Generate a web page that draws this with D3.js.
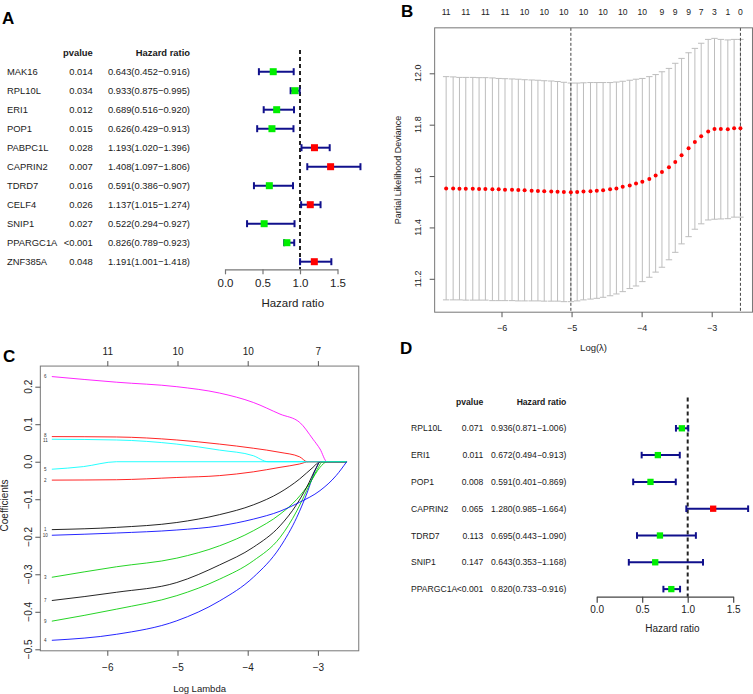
<!DOCTYPE html>
<html><head><meta charset="utf-8">
<script src="https://cdn.jsdelivr.net/npm/d3@7"></script>
<style>
body{margin:0;background:#fff;}
svg{display:block;font-family:"Liberation Sans",Arial,sans-serif;}
</style></head>
<body><svg id="chart" width="753" height="694"></svg>
<script>
// ---------- Panel A: univariate Cox forest plot ----------
const aGenes = ["MAK16","RPL10L","ERI1","POP1","PABPC1L","CAPRIN2","TDRD7","CELF4","SNIP1","PPARGC1A","ZNF385A"];
const aPvalues = ["0.014","0.034","0.012","0.015","0.028","0.007","0.016","0.026","0.027","<0.001","0.048"];
const aHR  = [0.643,0.933,0.689,0.626,1.193,1.408,0.591,1.137,0.522,0.826,1.191];
const aLow = [0.452,0.875,0.516,0.429,1.020,1.097,0.386,1.015,0.294,0.789,1.001];
const aHigh= [0.916,0.995,0.920,0.913,1.396,1.806,0.907,1.274,0.927,0.923,1.418];

// ---------- Panel B: cross-validation curve ----------
const bLogLambda = [-6.79,-6.69,-6.60,-6.51,-6.41,-6.32,-6.23,-6.13,-6.04,-5.95,-5.85,-5.76,-5.67,-5.57,-5.48,-5.39,-5.29,-5.20,-5.11,-5.01,-4.92,-4.83,-4.73,-4.64,-4.55,-4.45,-4.36,-4.27,-4.17,-4.08,-3.99,-3.89,-3.80,-3.71,-3.61,-3.52,-3.43,-3.33,-3.24,-3.15,-3.05,-2.96,-2.87,-2.77,-2.68,-2.59];
const bCvm = [11.552,11.552,11.551,11.551,11.551,11.550,11.550,11.549,11.549,11.547,11.547,11.546,11.545,11.543,11.542,11.541,11.540,11.539,11.538,11.537,11.538,11.540,11.541,11.543,11.545,11.549,11.552,11.558,11.563,11.571,11.578,11.589,11.602,11.616,11.634,11.655,11.681,11.708,11.733,11.755,11.773,11.783,11.783,11.782,11.786,11.786];
const bCvUp = [11.987,11.986,11.984,11.984,11.984,11.983,11.983,11.982,11.980,11.979,11.978,11.977,11.975,11.974,11.973,11.971,11.970,11.968,11.965,11.962,11.962,11.963,11.964,11.964,11.964,11.964,11.966,11.969,11.973,11.977,11.980,11.987,11.995,12.006,12.019,12.039,12.058,12.080,12.097,12.117,12.132,12.136,12.132,12.130,12.132,12.132];
const bCvLo = [11.118,11.118,11.118,11.117,11.117,11.117,11.117,11.115,11.115,11.115,11.115,11.114,11.114,11.114,11.114,11.113,11.113,11.113,11.111,11.111,11.114,11.118,11.121,11.124,11.128,11.134,11.141,11.150,11.162,11.172,11.189,11.206,11.226,11.245,11.274,11.303,11.336,11.364,11.393,11.414,11.429,11.432,11.433,11.434,11.440,11.440];
const bTopAt = [-6.79,-6.51,-6.23,-5.95,-5.67,-5.39,-5.11,-4.83,-4.55,-4.27,-3.99,-3.71,-3.52,-3.33,-3.15,-2.96,-2.77,-2.59];
const bTopLabels = ["11","11","11","11","10","10","10","10","10","10","10","9","9","9","7","3","1","0"];
const bXTicks = [-6,-5,-4,-3];
const bYTicks = [11.2,11.4,11.6,11.8,12.0];

// ---------- Panel C: LASSO coefficient paths ----------
const cVarLabels = ["1","2","3","4","5","6","7","8","9","10","11"];
const cColors = ["#000000","#FF0000","#00CD00","#0000FF","#00FFFF","#FF00FF","#000000","#FF0000","#00CD00","#0000FF","#00FFFF"];
const cPaths = [
  [[-6.79,-0.181],[-5.87,-0.175],[-5.01,-0.162],[-4.40,-0.141],[-3.92,-0.115],[-3.54,-0.082],[-3.26,-0.046],[-3.07,-0.015],[-2.97,0],[-2.59,0]],
  [[-6.79,-0.049],[-5.87,-0.048],[-5.01,-0.042],[-4.40,-0.037],[-3.92,-0.027],[-3.54,-0.015],[-3.26,-0.006],[-3.13,0],[-2.59,0]],
  [[-6.79,-0.308],[-5.87,-0.280],[-5.01,-0.257],[-4.40,-0.224],[-3.92,-0.184],[-3.54,-0.140],[-3.30,-0.100],[-3.11,-0.055],[-2.97,-0.015],[-2.87,0],[-2.59,0]],
  [[-6.79,-0.476],[-5.87,-0.460],[-5.01,-0.424],[-4.40,-0.371],[-3.92,-0.308],[-3.54,-0.228],[-3.30,-0.148],[-3.16,-0.086],[-3.02,-0.015],[-2.97,0],[-2.59,0]],
  [[-6.79,-0.020],[-6.34,-0.013],[-5.87,0],[-2.59,0]],
  [[-6.79,0.227],[-5.87,0.212],[-5.01,0.200],[-4.40,0.183],[-3.92,0.158],[-3.54,0.127],[-3.26,0.105],[-3.07,0.060],[-2.97,0.034],[-2.87,0],[-2.59,0]],
  [[-6.79,-0.370],[-5.87,-0.348],[-5.01,-0.322],[-4.40,-0.275],[-3.92,-0.228],[-3.54,-0.171],[-3.30,-0.113],[-3.16,-0.068],[-3.02,-0.015],[-2.97,0],[-2.59,0]],
  [[-6.79,0.067],[-5.87,0.066],[-5.01,0.058],[-4.40,0.047],[-3.92,0.036],[-3.54,0.025],[-3.26,0.013],[-3.15,0],[-2.59,0]],
  [[-6.79,-0.425],[-5.87,-0.393],[-5.01,-0.357],[-4.40,-0.313],[-3.92,-0.264],[-3.54,-0.202],[-3.30,-0.131],[-3.16,-0.077],[-3.02,-0.024],[-2.93,0],[-2.59,0]],
  [[-6.79,-0.196],[-5.87,-0.190],[-5.01,-0.182],[-4.40,-0.171],[-3.92,-0.153],[-3.54,-0.132],[-3.26,-0.108],[-2.97,-0.077],[-2.74,-0.037],[-2.59,0]],
  [[-6.79,0.060],[-5.87,0.058],[-5.01,0.047],[-4.40,0.031],[-3.92,0.016],[-3.71,0],[-2.59,0]]
];
const cXTicks = [-6,-5,-4,-3];
const cTopLabels = ["11","10","10","7"];
const cYTicks = [-0.5,-0.4,-0.3,-0.2,-0.1,0.0,0.1,0.2];

// ---------- Panel D: multivariate Cox forest plot ----------
const dGenes = ["RPL10L","ERI1","POP1","CAPRIN2","TDRD7","SNIP1","PPARGC1A"];
const dPvalues = ["0.071","0.011","0.008","0.065","0.113","0.147","<0.001"];
const dHR  = [0.936,0.672,0.591,1.280,0.695,0.643,0.820];
const dLow = [0.871,0.494,0.401,0.985,0.443,0.353,0.733];
const dHigh= [1.006,0.913,0.869,1.664,1.090,1.168,0.916];

const svg = d3.select("#chart");
svg.append("rect").attr("width",753).attr("height",694).attr("fill","#fff");

function panelLetter(t,x,y){
  svg.append("text").attr("x",x).attr("y",y).text(t)
    .attr("font-size",17).attr("font-weight","bold").attr("fill","#000");
}

// ---------- forest plot helper ----------
function forest(o){
  const g = svg.append("g");
  const n = o.genes.length;
  const x = d3.scaleLinear().domain([0,1]).range([o.x0,o.x1]);
  const y = d3.scalePoint().domain(d3.range(n)).range([o.yTop,o.yBot]);
  const hdrY = o.yTop - (o.yBot-o.yTop)/(n-1);
  const fs = o.fs, col = "#1a1a1a";
  g.append("text").attr("x",o.pX).attr("y",hdrY).attr("dy","0.35em").attr("text-anchor","end")
    .attr("font-weight","bold").attr("font-size",fs).attr("fill",col).text("pvalue");
  g.append("text").attr("x",o.hrX).attr("y",hdrY).attr("dy","0.35em").attr("text-anchor","end")
    .attr("font-weight","bold").attr("font-size",fs).attr("fill",col).text("Hazard ratio");
  const fmt = d3.format(".3f");
  o.genes.forEach((gn,i)=>{
    const yy = y(i);
    g.append("text").attr("x",o.nameX).attr("y",yy).attr("dy","0.35em").attr("font-size",fs).attr("fill",col).text(gn);
    g.append("text").attr("x",o.pX).attr("y",yy).attr("dy","0.35em").attr("text-anchor","end").attr("font-size",fs).attr("fill",col).text(o.p[i]);
    g.append("text").attr("x",o.hrX).attr("y",yy).attr("dy","0.35em").attr("text-anchor","end").attr("font-size",fs).attr("fill",col)
      .text(`${fmt(o.hr[i])}(${fmt(o.lo[i])}\u2212${fmt(o.hi[i])})`);
  });
  // dashed reference line
  g.append("line").attr("x1",x(1)).attr("x2",x(1)).attr("y1",o.dashTop).attr("y2",o.axisY)
    .attr("stroke","#222").attr("stroke-width",2).attr("stroke-dasharray","4,3");
  // error bars
  const ebCol = "#10108c";
  o.genes.forEach((gn,i)=>{
    const yy = y(i);
    g.append("line").attr("x1",x(o.lo[i])).attr("x2",x(o.hi[i])).attr("y1",yy).attr("y2",yy).attr("stroke",ebCol).attr("stroke-width",2);
    [o.lo[i],o.hi[i]].forEach(v=>{
      g.append("line").attr("x1",x(v)).attr("x2",x(v)).attr("y1",yy-o.cap).attr("y2",yy+o.cap).attr("stroke",ebCol).attr("stroke-width",2);
    });
    const s = o.box;
    g.append("rect").attr("x",x(o.hr[i])-s/2).attr("y",yy-s/2).attr("width",s).attr("height",s)
      .attr("fill", o.hr[i]>1 ? "#FF0000" : "#00EE00");
  });
  // axis
  const xa = x.copy().domain([0,1.5]).range([x(0),x(1.5)]);
  const ax = g.append("g").attr("transform",`translate(0,${o.axisY})`)
    .call(d3.axisBottom(xa).tickValues([0,0.5,1,1.5]).tickFormat(d3.format(".1f")).tickSize(o.tick).tickSizeOuter(0).tickPadding(o.pad));
  ax.selectAll("path,line").attr("stroke",o.axisCol).attr("stroke-width",1.2);
  ax.selectAll("text").attr("font-size",o.afs).attr("fill","#222").attr("font-family","Liberation Sans, Arial, sans-serif");
  const maxHi = d3.max(o.hi);
  g.append("text").attr("x",(x(0)+x(maxHi))/2).attr("y",o.titleY).attr("dy","0.35em").attr("text-anchor","middle")
    .attr("font-size",o.afs).attr("fill","#222").text("Hazard ratio");
}

forest({genes:aGenes,p:aPvalues,hr:aHR,lo:aLow,hi:aHigh,
  x0:225,x1:300,yTop:71.7,yBot:261.7,nameX:7,pX:92.7,hrX:190,fs:9.4,
  dashTop:50,axisY:269.3,tick:5,pad:4.9,afs:11.5,titleY:303,cap:3.5,box:7,axisCol:"#777"});
forest({genes:dGenes,p:dPvalues,hr:dHR,lo:dLow,hi:dHigh,
  x0:596.7,x1:687.7,yTop:428.3,yBot:589.1,nameX:411,pX:483.3,hrX:566.3,fs:8.6,
  dashTop:397.5,axisY:596.7,tick:6,pad:3.7,afs:10,titleY:628,cap:3.3,box:6.3,axisCol:"#444"});

// ---------- Panel B ----------
{
  const g = svg.append("g");
  const x = d3.scaleLinear().domain([-6,-3]).range([501.5,711.7]);
  const y = d3.scaleLinear().domain([11.2,12.0]).range([278.8,73.3]);
  const left = x(-6.954), right = x(-2.418), top = y(12.177), bot = y(11.07);
  const ebCol = "#bdbdbd", cw = 3.2;
  bLogLambda.forEach((l,i)=>{
    g.append("line").attr("x1",x(l)).attr("x2",x(l)).attr("y1",y(bCvLo[i])).attr("y2",y(bCvUp[i])).attr("stroke",ebCol).attr("stroke-width",1);
    [bCvLo[i],bCvUp[i]].forEach(v=>{
      g.append("line").attr("x1",x(l)-cw).attr("x2",x(l)+cw).attr("y1",y(v)).attr("y2",y(v)).attr("stroke",ebCol).attr("stroke-width",1);
    });
  });
  const iMin = d3.minIndex(bCvm);
  const thr = bCvm[iMin] + (bCvUp[iMin]-bCvLo[iMin])/2;
  const l1se = d3.max(bLogLambda.filter((l,i)=>bCvm[i] <= thr));
  [bLogLambda[iMin], l1se].forEach(l=>{
    g.append("line").attr("x1",x(l)).attr("x2",x(l)).attr("y1",top).attr("y2",bot)
      .attr("stroke","#444").attr("stroke-width",1).attr("stroke-dasharray","3,2");
  });
  g.selectAll("circle.cv").data(bLogLambda).join("circle")
    .attr("cx",d=>x(d)).attr("cy",(d,i)=>y(bCvm[i])).attr("r",2).attr("fill","#FF0000");
  g.append("rect").attr("x",left).attr("y",top).attr("width",right-left).attr("height",bot-top)
    .attr("fill","none").attr("stroke","#777").attr("stroke-width",1);
  const ax = g.append("g").attr("transform",`translate(0,${bot})`)
    .call(d3.axisBottom(x).tickValues(bXTicks).tickFormat(d3.format("d")).tickSize(5).tickPadding(7.5));
  ax.select(".domain").remove();
  ax.selectAll("line").attr("stroke","#555");
  ax.selectAll("text").attr("font-size",9).attr("fill","#222").attr("font-family","Liberation Sans, Arial, sans-serif");
  const ay = g.append("g").attr("transform",`translate(${left},0)`)
    .call(d3.axisLeft(y).tickValues(bYTicks).tickFormat("").tickSize(5));
  ay.select(".domain").remove();
  ay.selectAll("line").attr("stroke","#555");
  bYTicks.forEach(v=>{
    g.append("text").attr("transform",`translate(418,${y(v)}) rotate(-90)`).attr("dy","0.35em")
      .attr("text-anchor","middle").attr("font-size",9).attr("fill","#222").text(d3.format(".1f")(v));
  });
  bTopAt.forEach((l,i)=>{
    g.append("text").attr("x",x(l)).attr("y",15).attr("text-anchor","middle").attr("font-size",8.6)
      .attr("fill","#222").text(bTopLabels[i]);
  });
  g.append("text").attr("x",(left+right)/2).attr("y",348).attr("dy","0.35em").attr("text-anchor","middle")
    .attr("font-size",9.5).attr("fill","#222").text("Log(\u03BB)");
  g.append("text").attr("transform",`translate(398,${(top+bot)/2}) rotate(-90)`).attr("dy","0.35em")
    .attr("text-anchor","middle").attr("font-size",9).attr("fill","#222").text("Partial Likelihood Deviance");
}

// ---------- Panel C ----------
{
  const g = svg.append("g");
  const x = d3.scaleLinear().domain([-6,-3]).range([107.3,317.9]);
  const y = d3.scaleLinear().domain([-0.5,0.2]).range([649.3,386.7]);
  const left = x(-6.954), right = x(-2.418), top = y(0.255), bot = y(-0.504);
  const line = d3.line().x(d=>x(d[0])).y(d=>y(d[1])).curve(d3.curveMonotoneX);
  cPaths.forEach((p,i)=>{
    g.append("path").attr("d",line(p)).attr("fill","none").attr("stroke",cColors[i]).attr("stroke-width",1)
      .attr("stroke-opacity",0.85);
  });
  // variable labels at the left end of each path, nudged apart so they do not collide
  const fsL = 4.5, gap = 5;
  const labs = cPaths.map((p,i)=>({i, y:y(p[0][1]), x:x(p[0][0])-6.5}));
  const sorted = labs.slice().sort((a,b)=>a.y-b.y);
  for(let k=1;k<sorted.length;k++){
    const d = sorted[k].y - sorted[k-1].y;
    if(d < gap){ const s=(gap-d)/2; sorted[k-1].y -= s; sorted[k].y += s; }
  }
  labs.forEach(l=>{
    g.append("text").attr("x",l.x).attr("y",l.y).attr("dy","0.35em").attr("text-anchor","middle")
      .attr("font-size",fsL).attr("fill","#333").text(cVarLabels[l.i]);
  });
  g.append("rect").attr("x",left).attr("y",top).attr("width",right-left).attr("height",bot-top)
    .attr("fill","none").attr("stroke","#777").attr("stroke-width",1);
  const ax = g.append("g").attr("transform",`translate(0,${bot})`)
    .call(d3.axisBottom(x).tickValues(cXTicks).tickFormat(d3.format("d")).tickSize(5).tickPadding(7.9));
  ax.select(".domain").remove();
  ax.selectAll("line").attr("stroke","#555");
  ax.selectAll("text").attr("font-size",10).attr("fill","#222").attr("font-family","Liberation Sans, Arial, sans-serif");
  const at = g.append("g").attr("transform",`translate(0,${top})`)
    .call(d3.axisTop(x).tickValues(cXTicks).tickFormat((d,i)=>cTopLabels[i]).tickSize(5).tickPadding(6));
  at.select(".domain").remove();
  at.selectAll("line").attr("stroke","#555");
  at.selectAll("text").attr("font-size",10).attr("fill","#222").attr("font-family","Liberation Sans, Arial, sans-serif");
  const ay = g.append("g").attr("transform",`translate(${left},0)`)
    .call(d3.axisLeft(y).tickValues(cYTicks).tickFormat("").tickSize(5));
  ay.select(".domain").remove();
  ay.selectAll("line").attr("stroke","#555");
  cYTicks.forEach(v=>{
    g.append("text").attr("transform",`translate(28.3,${y(v)}) rotate(-90)`).attr("dy","0.35em")
      .attr("text-anchor","middle").attr("font-size",10).attr("fill","#222").text(d3.format(".1f")(v));
  });
  g.append("text").attr("x",(left+right)/2).attr("y",689).attr("dy","0.35em").attr("text-anchor","middle")
    .attr("font-size",9.5).attr("fill","#222").text("Log Lambda");
  g.append("text").attr("transform",`translate(4.5,${(top+bot)/2-3}) rotate(-90)`).attr("dy","0.35em")
    .attr("text-anchor","middle").attr("font-size",10).attr("fill","#222").text("Coefficients");
}

panelLetter("A",2,24);
panelLetter("B",401,17);
panelLetter("C",3,362);
panelLetter("D",400,354);
</script></body></html>
